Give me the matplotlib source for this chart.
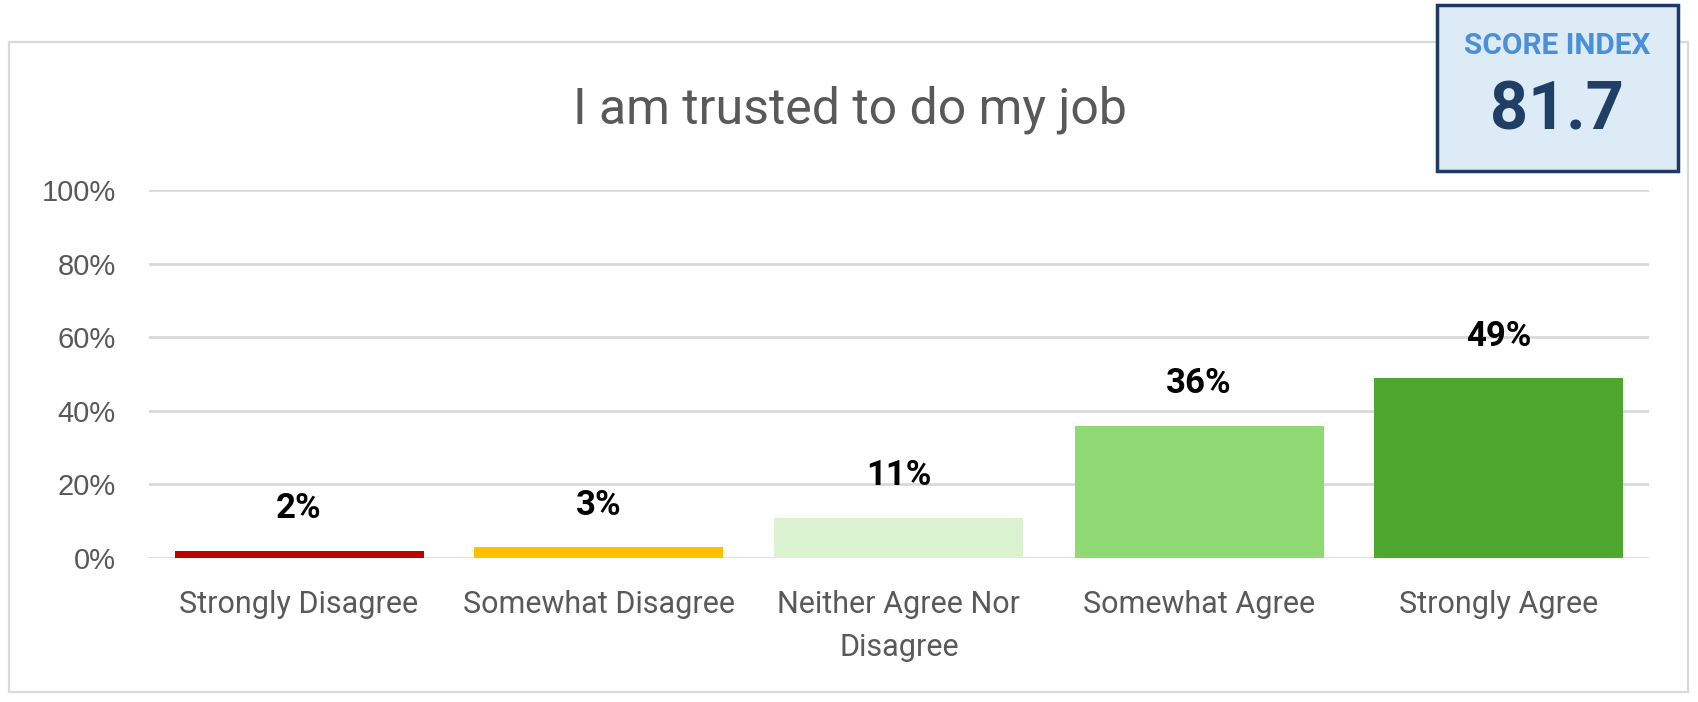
import matplotlib
matplotlib.use("Agg")
import matplotlib.pyplot as plt
from matplotlib.patches import Rectangle

# data
categories = ["Strongly Disagree", "Somewhat Disagree", "Neither Agree Nor\nDisagree",
              "Somewhat Agree", "Strongly Agree"]
values = [0.02, 0.03, 0.11, 0.36, 0.49]
value_labels = ["2%", "3%", "11%", "36%", "49%"]
bar_colors = ["#C00000", "#FFC000", "#DAF2D0", "#8ED973", "#4EA72E"]
yticks = [0, 0.2, 0.4, 0.6, 0.8, 1.0]
ytick_labels = ["0%", "20%", "40%", "60%", "80%", "100%"]
title = "I am trusted to do my job"
score_name = "SCORE INDEX"
score_value = "81.7"

narrow = ["Liberation Sans Narrow", "Roboto", "DejaVu Sans"]
grey = "#595959"

fig = plt.figure(figsize=(16.98, 7.02), dpi=100)
W, H = 1698, 702

# outer chart border
fig.patches.append(Rectangle((9 / W, 1 - 692 / H), (1688 - 9) / W, (692 - 42) / H,
                             transform=fig.transFigure, fill=False,
                             edgecolor="#D9D9D9", linewidth=1.6, zorder=0))

ax = fig.add_axes([149 / W, 1 - 558 / H, 1500 / W, 368 / H])
x = range(len(categories))
ax.bar(x, values, width=0.83, color=bar_colors, zorder=3)
ax.set_xlim(-0.5, len(categories) - 0.5)
ax.set_ylim(0, 1)
ax.set_yticks(yticks)
ax.set_yticklabels(ytick_labels, fontsize=21, color=grey,
                   family=["Liberation Sans", "DejaVu Sans"])
ax.set_xticks(list(x))
ax.set_xticklabels(categories, fontsize=22, color=grey, family=narrow,
                   linespacing=1.6)
ax.tick_params(axis="y", length=0, pad=24)
ax.tick_params(axis="x", length=0, pad=23)
ax.grid(axis="y", color="#D9D9D9", linewidth=2, zorder=0)
ax.set_axisbelow(True)
for s in ax.spines.values():
    s.set_visible(False)

for i, v in enumerate(values):
    ax.annotate(value_labels[i], (i, v), xytext=(0, 30), textcoords="offset points",
                ha="center", va="center", fontsize=25, fontweight="bold",
                color="black", family=narrow)

fig.text(850 / W, 1 - 110 / H, title, ha="center", va="center",
         fontsize=36, color=grey, family=narrow)

# score index box
fig.patches.append(Rectangle((1437 / W, 1 - 171 / H), (1678 - 1437) / W, (171 - 5) / H,
                             transform=fig.transFigure, facecolor="#DDEBF7",
                             edgecolor="#1F3864", linewidth=2.5, zorder=5))
fig.text(1557 / W, 1 - 46 / H, score_name, ha="center", va="center", fontsize=21.5,
         fontweight="bold", color="#4A90D9", family=["Roboto", "DejaVu Sans"], zorder=6)
fig.text(1557 / W, 1 - 112 / H, score_value, ha="center", va="center", fontsize=48,
         fontweight="bold", color="#1F3F66", family=["Roboto", "DejaVu Sans"], zorder=6)

fig.savefig("out.png", dpi=100, facecolor="white")
